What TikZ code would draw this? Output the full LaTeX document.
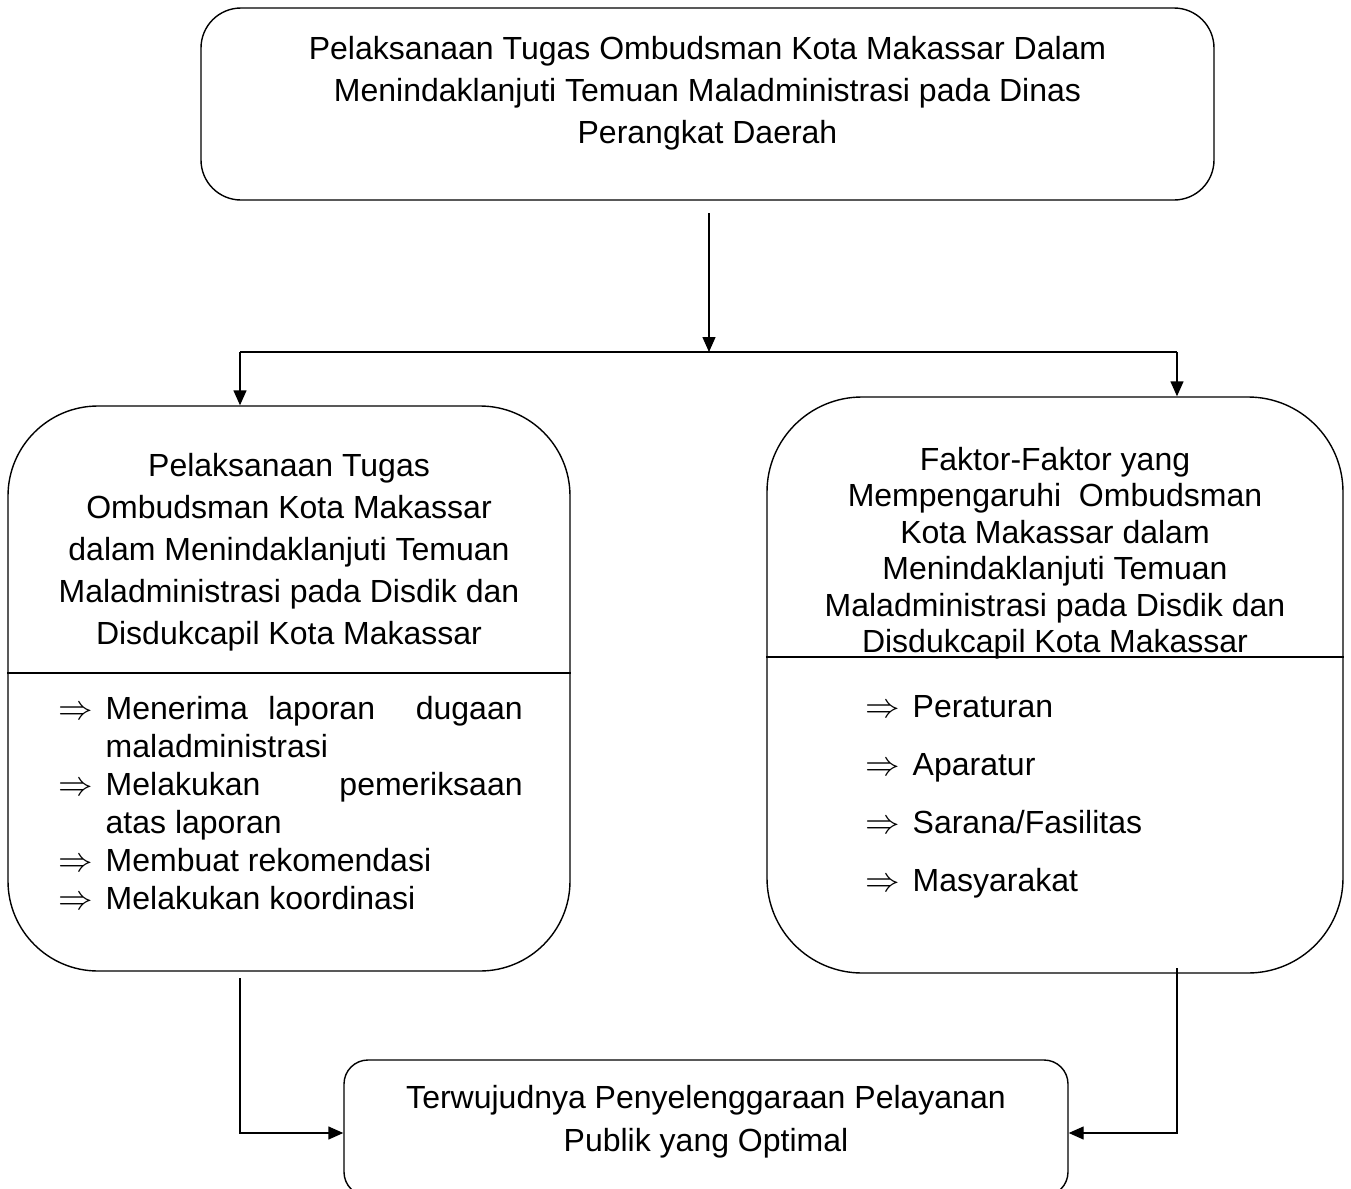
\documentclass[tikz,border=0pt]{standalone}
\usepackage{fontspec}
\setmainfont{Liberation Sans}
\usepackage{amsmath}
\usetikzlibrary{arrows.meta}

\newcommand{\arrowitem}{\makebox[23.5pt][l]{$\Rightarrow$}}

\begin{document}
\begin{tikzpicture}[x=0.5pt,y=-0.5pt,line width=0.7pt,
        box/.style={draw,inner sep=0pt},
        txt/.style={inner sep=0pt,align=center,font=\fontsize{16}{21}\selectfont},
        flow/.style={-{Triangle[length=7.5pt,width=6.5pt]}}]
    \useasboundingbox (0,0) rectangle (1351,1189);

    % boxes
    \node[box,rounded corners=20pt,minimum width=506.5pt,minimum height=96pt] (top) at (707.5,104) {};
    \node[box,rounded corners=45pt,minimum width=281pt,minimum height=282.5pt] (left) at (289,688.5) {};
    \node[box,rounded corners=47.5pt,minimum width=288pt,minimum height=288pt] (right) at (1055,685) {};
    \node[box,rounded corners=12pt,minimum width=362pt,minimum height=68pt] (bottom) at (706,1128) {};
    \draw (left.west |- 0,673) -- (left.east |- 0,673);
    \draw (right.west |- 0,657) -- (right.east |- 0,657);

    % texts
    \node[txt] (toptext) at (707.5,93) {Pelaksanaan Tugas Ombudsman Kota Makassar Dalam\\Menindaklanjuti Temuan Maladministrasi pada Dinas\\Perangkat Daerah};
    \node[txt] (lefthead) at (289,552.5) {Pelaksanaan Tugas\\Ombudsman Kota Makassar\\dalam Menindaklanjuti Temuan\\Maladministrasi pada Disdik dan\\Disdukcapil Kota Makassar};
    \node[txt,align=left,anchor=west,font=\fontsize{16}{19}\selectfont] (leftlist) at (58,803) {%
        \arrowitem\makebox[208.5pt][s]{Menerima\hfill laporan\hfill\hfill dugaan}\\
        \hspace*{23.5pt}maladministrasi\\
        \arrowitem\makebox[208.5pt][s]{Melakukan\hfill pemeriksaan}\\
        \hspace*{23.5pt}atas laporan\\
        \arrowitem Membuat rekomendasi\\
        \arrowitem Melakukan koordinasi};
    \node[txt,font=\fontsize{16}{18.25}\selectfont] (righthead) at (1055,553) {Faktor-Faktor yang\\Mempengaruhi\ \ Ombudsman\\Kota Makassar dalam\\Menindaklanjuti Temuan\\Maladministrasi pada Disdik dan\\Disdukcapil Kota Makassar};
    \node[txt,align=left,anchor=west,font=\fontsize{16}{29}\selectfont] (rightlist) at (865,796.5) {%
        \arrowitem Peraturan\\
        \arrowitem Aparatur\\
        \arrowitem Sarana/Fasilitas\\
        \arrowitem Masyarakat};
    \node[txt,font=\fontsize{16}{21.5}\selectfont] (bottomtext) at (706,1121.5) {Terwujudnya Penyelenggaraan Pelayanan\\Publik yang Optimal};

    % connectors
    \coordinate (topout) at (709,213);
    \coordinate (split) at (709,352);
    \coordinate (splitL) at (240,352);
    \coordinate (splitR) at (1177,352);
    \coordinate (leftout) at (240,978);
    \coordinate (rightout) at (1177,968);
    \draw[flow] (topout) -- (split);
    \draw (splitL) -- (splitR);
    \draw[flow] (splitL) -- (splitL |- left.north);
    \draw[flow] (splitR) -- (splitR |- right.north);
    \draw[flow] (leftout) |- ([yshift=-2.5pt]bottom.west);
    \draw[flow] (rightout) |- ([yshift=-2.5pt]bottom.east);
\end{tikzpicture}
\end{document}
